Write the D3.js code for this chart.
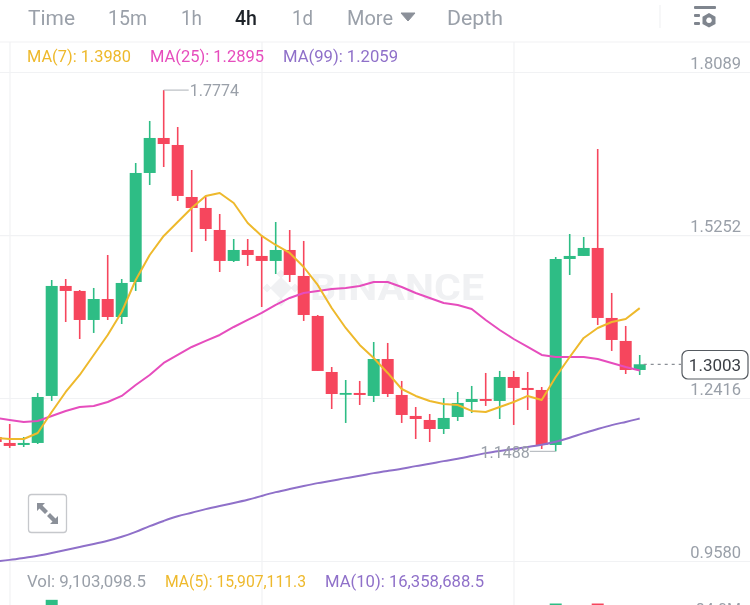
<!DOCTYPE html>
<html><head><meta charset="utf-8">
<script src="https://cdn.jsdelivr.net/npm/d3@7"></script>
<style>
html,body{margin:0;padding:0;background:#fff;overflow:hidden}
svg{display:block;filter:blur(0.45px)}
text{font-family:Roboto,"Open Sans",sans-serif}
</style></head><body>
<svg id="c" width="750" height="605"></svg>
<script>
// Candle values (4h candles, left to right)
const opens=[1.1738,1.1634,1.1599,1.1634,1.2452,1.4366,1.4279,1.3774,1.4139,1.3826,1.4435,1.6332,1.6941,1.6819,1.5914,1.5723,1.5340,1.4801,1.4992,1.4888,1.4801,1.4992,1.4540,1.3844,1.2869,1.2486,1.2504,1.2452,1.3095,1.2469,1.2104,1.2034,1.1877,1.2086,1.2347,1.2399,1.2365,1.2782,1.2591,1.2556,1.1599,1.4835,1.4888,1.5027,1.3809,1.3409,1.2904];
const closes=[1.1651,1.1582,1.1634,1.2434,1.4366,1.4279,1.3774,1.4139,1.3826,1.4418,1.6332,1.6941,1.6836,1.5932,1.5723,1.5357,1.4801,1.4992,1.4905,1.4801,1.4992,1.4557,1.3861,1.2887,1.2486,1.2504,1.2469,1.3095,1.2486,1.2121,1.2051,1.1877,1.2069,1.2330,1.2399,1.2365,1.2782,1.2591,1.2556,1.1599,1.4835,1.4888,1.5027,1.3809,1.3426,1.2904,1.3003];
const highs=[1.1825,1.1964,1.1738,1.2504,1.4470,1.4487,1.4296,1.4331,1.4905,1.4487,1.6506,1.7237,1.7774,1.7132,1.6384,1.5914,1.5618,1.5183,1.5183,1.5253,1.5479,1.5340,1.5149,1.3861,1.2956,1.2730,1.2713,1.3391,1.3374,1.2713,1.2260,1.2138,1.2417,1.2521,1.2626,1.2852,1.2887,1.2887,1.2869,1.2608,1.4870,1.5270,1.5218,1.6749,1.4244,1.3670,1.3165];
const lows=[1.1616,1.1547,1.1564,1.1616,1.2365,1.3739,1.3443,1.3548,1.3774,1.3704,1.4279,1.6123,1.6436,1.5845,1.4957,1.5149,1.4609,1.4783,1.4714,1.4000,1.4574,1.4435,1.3757,1.2887,1.2225,1.1982,1.2295,1.2347,1.2434,1.1982,1.1703,1.1651,1.1790,1.2017,1.2156,1.2278,1.2051,1.1947,1.2208,1.1529,1.1488,1.4557,1.4888,1.3687,1.3235,1.2834,1.2817];
const ma7=[1.1721,1.1703,1.1703,1.1808,1.2173,1.2521,1.2817,1.3165,1.3513,1.3913,1.4470,1.4905,1.5236,1.5479,1.5723,1.5932,1.5984,1.5810,1.5462,1.5236,1.5079,1.4940,1.4696,1.4383,1.3983,1.3635,1.3339,1.3113,1.2852,1.2573,1.2452,1.2365,1.2312,1.2295,1.2191,1.2173,1.2260,1.2347,1.2452,1.2382,1.2782,1.3130,1.3461,1.3635,1.3739,1.3791,1.3980];
const ma25=[1.2069,1.2034,1.1999,1.2017,1.2104,1.2191,1.2260,1.2278,1.2347,1.2452,1.2643,1.2817,1.3026,1.3165,1.3304,1.3409,1.3513,1.3652,1.3774,1.3896,1.4035,1.4157,1.4244,1.4279,1.4313,1.4331,1.4366,1.4435,1.4435,1.4348,1.4244,1.4157,1.4070,1.4035,1.3965,1.3774,1.3600,1.3443,1.3304,1.3165,1.3130,1.3130,1.3130,1.3095,1.3026,1.2956,1.2895];
const ma99=[0.9572,0.9598,0.9633,0.9668,0.9720,0.9772,0.9824,0.9876,0.9929,0.9998,1.0085,1.0190,1.0277,1.0364,1.0416,1.0485,1.0538,1.0590,1.0642,1.0712,1.0781,1.0833,1.0886,1.0938,1.0973,1.1025,1.1060,1.1112,1.1147,1.1181,1.1234,1.1268,1.1321,1.1355,1.1408,1.1460,1.1495,1.1529,1.1564,1.1599,1.1651,1.1721,1.1808,1.1877,1.1947,1.1999,1.2059];
// Only the tallest volume bars reach into the frame (millions)
const volIndex=[4,40,43];
const volValues=[98,95,95];
const priceTicks=[1.8089,1.5252,1.2416,0.9580];
const tabs=["Time","15m","1h","4h","1d","More","Depth"];
const lastPrice=1.3003, highMark=1.7774, lowMark=1.1488, highIdx=12, lowIdx=40;
const volTick="84.0M";

const GREEN="#2ebd85",RED="#f6465d",GRID="#f1f2f4",GREY="#9aa0a9";
const C7="#eeb92c",C25="#e64dbd",C99="#8f70c9";
const svg=d3.select("#c");
const x=d3.scaleLinear().domain([0,46]).range([-4.3,639.7]);
const y=d3.scaleLinear().domain([0.9580,1.8089]).range([561,72]);
const yVol=d3.scaleLinear().domain([0,84]).range([720,617]);
const n=opens.length, bw=12;

// Header rule and grid
const grid=svg.append("g").attr("stroke",GRID).attr("stroke-width",1.2);
grid.append("line").attr("x1",0).attr("x2",750).attr("y1",42).attr("y2",42);
grid.selectAll("line.v").data([10,262,514]).join("line").attr("class","v")
  .attr("x1",d=>d).attr("x2",d=>d).attr("y1",42).attr("y2",605);
grid.append("line").attr("x1",660).attr("x2",660).attr("y1",5).attr("y2",28);
const yAxis=svg.append("g").attr("transform","translate(750,0)")
  .call(d3.axisLeft(y).tickValues(priceTicks).tickSize(750).tickFormat(d3.format(".4f")));
yAxis.select(".domain").remove();
yAxis.selectAll(".tick line").attr("stroke",GRID).attr("stroke-width",1.2);
yAxis.selectAll(".tick text").attr("x",-9).attr("dy","-0.2em").attr("text-anchor","end")
  .attr("fill",GREY).style("font-size","16.5px").style("font-family","Roboto,sans-serif");

// Watermark
const wm=svg.append("g").attr("fill","#f0f1f3");
wm.append("text").attr("x",310).attr("y",300).attr("font-size",36).attr("font-weight",700)
  .attr("textLength",174).attr("lengthAdjust","spacingAndGlyphs").text("BINANCE");
[[281,288,11],[267,288,4.5],[295,288,4.5],[281,274,4.5],[281,302,4.5]].forEach(([cx,cy,r])=>{
  wm.append("path").attr("d",`M${cx} ${cy-r}L${cx+r} ${cy}L${cx} ${cy+r}L${cx-r} ${cy}Z`);
});

// Volume
svg.append("g").selectAll("rect").data(volIndex).join("rect")
  .attr("x",i=>x(i)-bw/2).attr("width",bw)
  .attr("y",(i,k)=>yVol(volValues[k])).attr("height",(i,k)=>yVol(0)-yVol(volValues[k]))
  .attr("fill",i=>closes[i]>=opens[i]?GREEN:RED);
svg.append("text").attr("x",741).attr("y",615).attr("text-anchor","end").attr("fill",GREY)
  .attr("font-size",16).text(volTick);

// Candles
const idx=d3.range(n);
const col=i=>closes[i]>=opens[i]?GREEN:RED;
const cg=svg.append("g");
cg.selectAll("line").data(idx).join("line")
  .attr("x1",x).attr("x2",x).attr("y1",i=>y(highs[i])).attr("y2",i=>y(lows[i]))
  .attr("stroke",col).attr("stroke-width",1.6);
cg.selectAll("rect").data(idx).join("rect")
  .attr("x",i=>x(i)-bw/2).attr("width",bw)
  .attr("y",i=>y(Math.max(opens[i],closes[i])))
  .attr("height",i=>Math.max(1.8,Math.abs(y(opens[i])-y(closes[i]))))
  .attr("fill",col);

// Moving averages
const line=d3.line().x((d,i)=>x(i)).y(d=>y(d));
const smooth=d3.line().x((d,i)=>x(i)).y(d=>y(d)).curve(d3.curveBasis);
[[ma99,C99,smooth],[ma25,C25,line],[ma7,C7,line]].forEach(([s,c,g])=>{
  svg.append("path").attr("d",g(s)).attr("fill","none").attr("stroke",c)
    .attr("stroke-width",2).attr("stroke-linejoin","round");
});

// High / low markers
const mark=svg.append("g").attr("fill","none").attr("stroke","#b4b8be").attr("stroke-width",1.1);
mark.append("line").attr("x1",x(highIdx)).attr("x2",x(highIdx)+25).attr("y1",y(highMark)).attr("y2",y(highMark));
mark.append("line").attr("x1",x(lowIdx)-26).attr("x2",x(lowIdx)).attr("y1",y(lowMark)).attr("y2",y(lowMark));
svg.append("text").attr("x",x(highIdx)+26).attr("y",y(highMark)).attr("dy","0.35em").attr("fill",GREY)
  .attr("font-size",16).text(highMark.toFixed(4));
svg.append("text").attr("x",x(lowIdx)-26).attr("y",y(lowMark)+1).attr("dy","0.35em").attr("text-anchor","end")
  .attr("fill",GREY).attr("font-size",16).text(lowMark.toFixed(4));

// Last price
svg.append("line").attr("x1",x(46)+4).attr("x2",681).attr("y1",y(lastPrice)).attr("y2",y(lastPrice))
  .attr("stroke","#8a8f96").attr("stroke-width",1.2).attr("stroke-dasharray","3 4");
svg.append("rect").attr("x",682).attr("y",350.5).attr("width",66).attr("height",28.5).attr("rx",6)
  .attr("fill","#fff").attr("stroke","#555a60").attr("stroke-width",1.2);
svg.append("text").attr("x",715).attr("y",365).attr("dy","0.35em").attr("text-anchor","middle")
  .attr("fill","#3c4046").attr("font-size",17).text(lastPrice.toFixed(4));

// Tabs
const tabX=[[28,47],[108,39],[181,21],[235,22],[292,21],[347,46],[447,56]];
svg.append("g").selectAll("text").data(tabs).join("text")
  .attr("x",(d,i)=>tabX[i][0]).attr("y",24.5)
  .attr("textLength",(d,i)=>tabX[i][1]).attr("lengthAdjust","spacingAndGlyphs")
  .attr("font-size",21).attr("font-weight",d=>d==="4h"?500:400)
  .attr("fill",d=>d==="4h"?"#1e2329":GREY).text(d=>d);
svg.append("path").attr("d","M401 13H415L408 21Z").attr("fill","#8b9099").attr("stroke","#8b9099").attr("stroke-linejoin","round");

// Legends
const legend=(items,yy)=>items.forEach(([t,xx,w,c])=>svg.append("text").attr("x",xx).attr("y",yy)
  .attr("textLength",w).attr("lengthAdjust","spacingAndGlyphs").attr("font-size",16).attr("fill",c).text(t));
legend([[`MA(7): ${ma7[n-1].toFixed(4)}`,27,104,C7],[`MA(25): ${ma25[n-1].toFixed(4)}`,150,114,C25],[`MA(99): ${ma99[n-1].toFixed(4)}`,283,115,C99]],62);
legend([["Vol: 9,103,098.5",27,119,GREY],["MA(5): 15,907,111.3",165,141,C7],["MA(10): 16,358,688.5",325,159,C99]],587);

// Expand button
const btn=svg.append("g");
btn.append("rect").attr("x",28.5).attr("y",494.5).attr("width",38).attr("height",38).attr("rx",3)
  .attr("fill","#fff").attr("stroke","#c6c8cc").attr("stroke-width",1.3);
btn.append("path").attr("d","M37 503H45L42.5 505.5L48 511L45 514L39.5 508.5L37 511Z M58 524H50L52.5 521.5L47 516L50 513L55.5 518.5L58 516Z").attr("fill","#8b9099");

// Settings icon
const ic=svg.append("g").attr("fill","#7f858e");
ic.append("rect").attr("x",694).attr("y",6).attr("width",22).attr("height",3).attr("rx",1);
ic.append("rect").attr("x",694).attr("y",14).attr("width",6).attr("height",3).attr("rx",1);
ic.append("rect").attr("x",694).attr("y",22).attr("width",6).attr("height",3).attr("rx",1);
ic.append("path").attr("fill-rule","evenodd").attr("d","M709 13L715.5 16.7V24L709 27.5L702.5 24V16.7Z M709 17.5A2.8 2.8 0 1 0 709.01 17.5Z");
</script>
</body></html>
